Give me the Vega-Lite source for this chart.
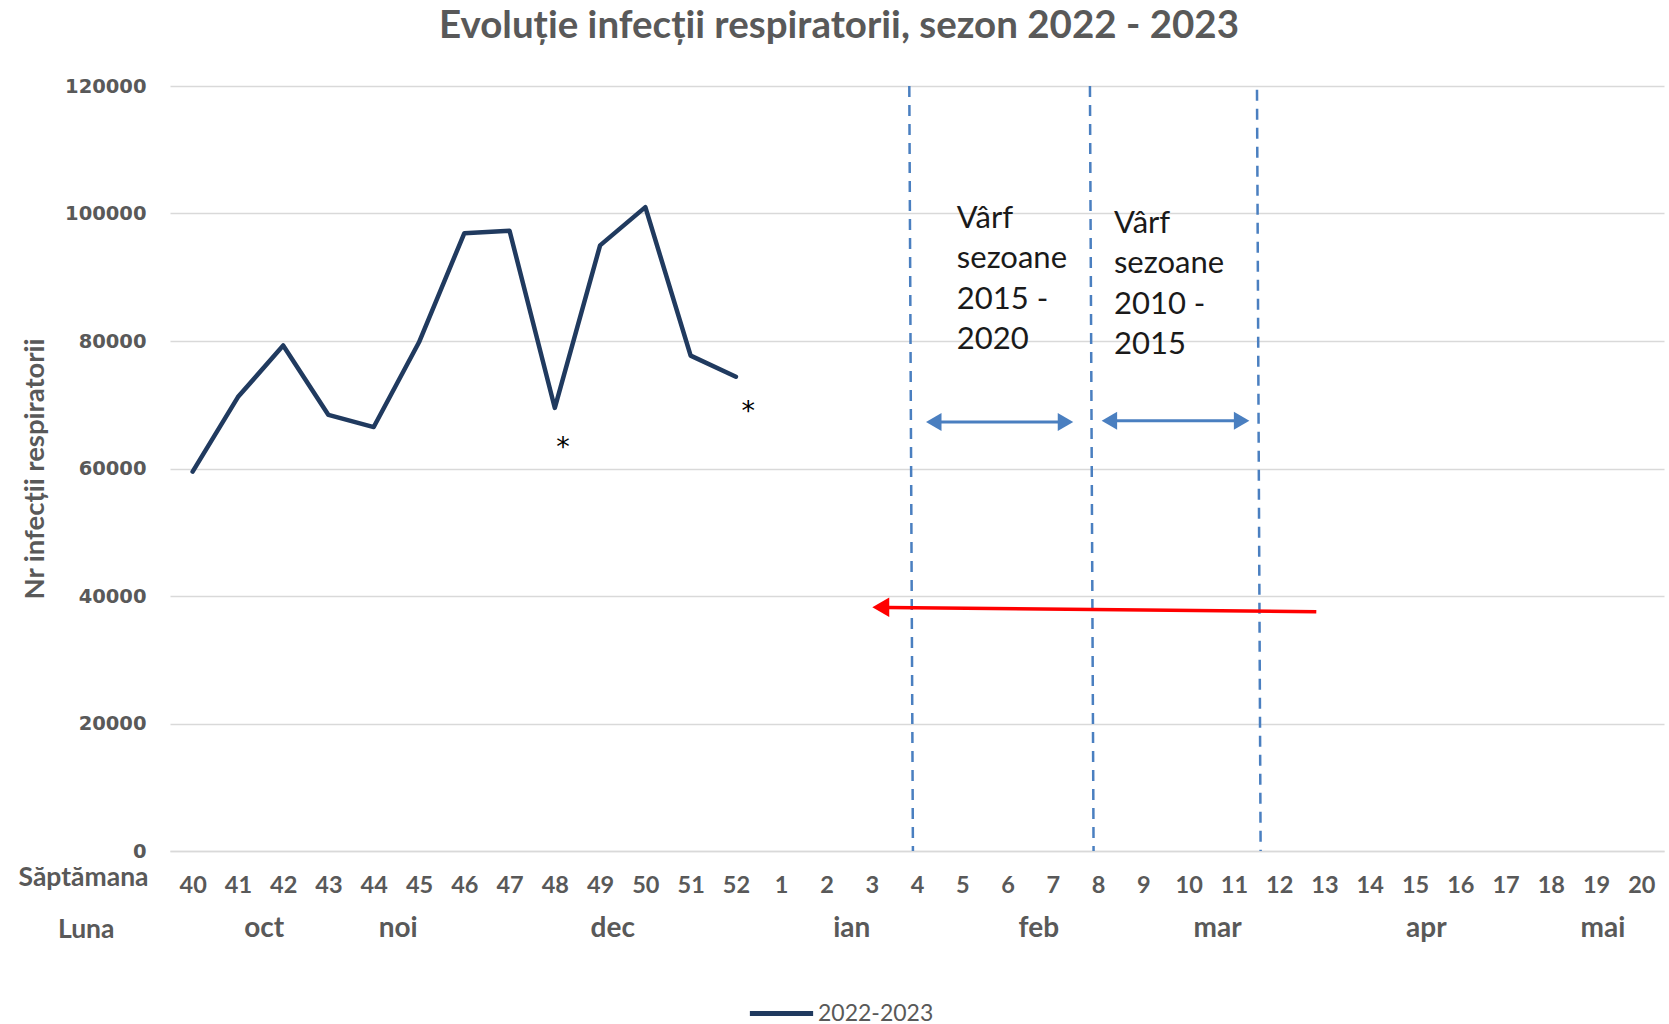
{
  "$schema": "https://vega.github.io/schema/vega-lite/v6.json",
  "width": 1494,
  "height": 765,
  "autosize": {"type": "none"},
  "padding": {"left": 170, "top": 86, "right": 5, "bottom": 173},
  "background": "white",
  "title": {
    "text": "Evoluție infecții respiratorii, sezon 2022 - 2023",
    "font": "Lato",
    "fontSize": 38.5,
    "fontWeight": "bold",
    "color": "#595959",
    "anchor": "middle",
    "baseline": "alphabetic",
    "offset": 0,
    "dx": -78
  },
  "config": {
    "view": {"stroke": null},
    "text": {"font": "Lato"}
  },
  "datasets": {
    "series": [
      {"week": "40", "v": 59500, "serie": "2022-2023"},
      {"week": "41", "v": 71200, "serie": "2022-2023"},
      {"week": "42", "v": 79300, "serie": "2022-2023"},
      {"week": "43", "v": 68400, "serie": "2022-2023"},
      {"week": "44", "v": 66500, "serie": "2022-2023"},
      {"week": "45", "v": 79800, "serie": "2022-2023"},
      {"week": "46", "v": 96900, "serie": "2022-2023"},
      {"week": "47", "v": 97300, "serie": "2022-2023"},
      {"week": "48", "v": 69500, "serie": "2022-2023"},
      {"week": "49", "v": 95000, "serie": "2022-2023"},
      {"week": "50", "v": 101000, "serie": "2022-2023"},
      {"week": "51", "v": 77700, "serie": "2022-2023"},
      {"week": "52", "v": 74400, "serie": "2022-2023"}
    ],
    "vlines": [
      {"x": 15.83, "x2": 15.91, "v": 120000, "v2": 0},
      {"x": 19.82, "x2": 19.90, "v": 120000, "v2": 0},
      {"x": 23.51, "x2": 23.59, "v": 119400, "v2": 0}
    ],
    "shafts": [
      {"x": 16.3, "x2": 19.35, "v": 67300},
      {"x": 20.2, "x2": 23.25, "v": 67500}
    ],
    "heads": [
      {"x": 16.37, "v": 67300, "dir": "left"},
      {"x": 19.28, "v": 67300, "dir": "right"},
      {"x": 20.25, "v": 67500, "dir": "left"},
      {"x": 23.17, "v": 67500, "dir": "right"}
    ],
    "red": [
      {"x": 15.35, "x2": 24.82, "v": 38200, "v2": 37540}
    ],
    "redhead": [
      {"x": 15.2, "v": 38230, "dir": "left"}
    ],
    "notes": [
      {"x": 16.88, "v": 97800, "text": ["Vârf", "sezoane", "2015 -", "2020"]},
      {"x": 20.35, "v": 97000, "text": ["Vârf", "sezoane", "2010 -", "2015"]}
    ],
    "stars": [
      {"x": 8.18, "v": 61950, "text": "*"},
      {"x": 12.27, "v": 67550, "text": "*"}
    ],
    "months": [
      {"x": 1.58, "v": -12235, "text": "oct"},
      {"x": 4.54, "v": -12235, "text": "noi"},
      {"x": 9.28, "v": -12235, "text": "dec"},
      {"x": 14.56, "v": -12235, "text": "ian"},
      {"x": 18.69, "v": -12235, "text": "feb"},
      {"x": 22.64, "v": -12235, "text": "mar"},
      {"x": 27.25, "v": -12235, "text": "apr"},
      {"x": 31.15, "v": -12235, "text": "mai"}
    ],
    "rowlabels": [
      {"x": -2.41, "v": -4250, "text": "Săptămana"},
      {"x": -2.35, "v": -12390, "text": "Luna"}
    ]
  },
  "encoding": {
    "y": {
      "field": "v",
      "type": "quantitative",
      "scale": {"domain": [0, 120000], "nice": false, "zero": true},
      "axis": {
        "title": "Nr infecții respiratorii",
        "titleFont": "Lato",
        "titleFontSize": 27.5,
        "titleFontWeight": "bold",
        "titleColor": "#595959",
        "titlePadding": 15,
        "values": [0, 20000, 40000, 60000, 80000, 100000, 120000],
        "format": "d",
        "labelFont": "DejaVu Sans",
        "labelFontWeight": "bold",
        "labelFontSize": 19.5,
        "labelColor": "#595959",
        "labelPadding": 24,
        "ticks": false,
        "domain": false,
        "grid": true,
        "gridColor": "#d9d9d9",
        "gridWidth": 1.3
      }
    }
  },
  "layer": [
    {
      "data": {"name": "series"},
      "mark": {"type": "line", "strokeWidth": 4.5, "strokeJoin": "round", "strokeCap": "round"},
      "encoding": {
        "x": {
          "field": "week",
          "type": "ordinal",
          "sort": null,
          "scale": {
            "type": "point",
            "padding": 0.5,
            "domain": ["40","41","42","43","44","45","46","47","48","49","50","51","52","1","2","3","4","5","6","7","8","9","10","11","12","13","14","15","16","17","18","19","20"]
          },
          "axis": {
            "title": null,
            "labelAngle": 0,
            "labelFont": "Lato",
            "labelFontWeight": "bold",
            "labelFontSize": 23.5,
            "labelColor": "#595959",
            "labelPadding": 22,
            "ticks": false,
            "domain": true,
            "domainColor": "#d9d9d9",
            "domainWidth": 1.3
          }
        },
        "color": {
          "field": "serie",
          "type": "nominal",
          "scale": {"range": ["#203a5f"]},
          "legend": {
            "orient": "none",
            "legendX": 577,
            "legendY": 893,
            "title": null,
            "padding": 0,
            "symbolType": "stroke",
            "symbolSize": 4000,
            "symbolStrokeWidth": 5,
            "labelFont": "Lato",
            "labelFontSize": 23,
            "labelColor": "#595959",
            "labelOffset": 2
          }
        }
      }
    },
    {
      "data": {"name": "vlines"},
      "mark": {"type": "rule", "color": "#4a7fc0", "strokeWidth": 2.5, "strokeDash": [11, 8]},
      "encoding": {
        "x": {"field": "x", "type": "quantitative", "scale": {"domain": [-0.5, 32.5], "nice": false, "zero": false}, "axis": null},
        "x2": {"field": "x2"},
        "y2": {"field": "v2"}
      }
    },
    {
      "data": {"name": "shafts"},
      "mark": {"type": "rule", "color": "#4a7fc0", "strokeWidth": 3},
      "encoding": {
        "x": {"field": "x", "type": "quantitative", "scale": {"domain": [-0.5, 32.5], "nice": false, "zero": false}, "axis": null},
        "x2": {"field": "x2"}
      }
    },
    {
      "data": {"name": "heads"},
      "mark": {"type": "point", "filled": true, "color": "#4a7fc0", "opacity": 1, "size": 320},
      "encoding": {
        "x": {"field": "x", "type": "quantitative", "scale": {"domain": [-0.5, 32.5], "nice": false, "zero": false}, "axis": null},
        "shape": {"field": "dir", "type": "nominal", "scale": {"domain": ["left", "right"], "range": ["triangle-left", "triangle-right"]}, "legend": null}
      }
    },
    {
      "data": {"name": "red"},
      "mark": {"type": "rule", "color": "#ff0000", "strokeWidth": 3.5},
      "encoding": {
        "x": {"field": "x", "type": "quantitative", "scale": {"domain": [-0.5, 32.5], "nice": false, "zero": false}, "axis": null},
        "x2": {"field": "x2"},
        "y2": {"field": "v2"}
      }
    },
    {
      "data": {"name": "redhead"},
      "mark": {"type": "point", "filled": true, "color": "#ff0000", "opacity": 1, "size": 380, "shape": "triangle-left"},
      "encoding": {
        "x": {"field": "x", "type": "quantitative", "scale": {"domain": [-0.5, 32.5], "nice": false, "zero": false}, "axis": null}
      }
    },
    {
      "data": {"name": "notes"},
      "mark": {"type": "text", "align": "left", "baseline": "alphabetic", "fontSize": 31, "lineHeight": 40.5, "color": "#1a1a1a"},
      "encoding": {
        "x": {"field": "x", "type": "quantitative", "scale": {"domain": [-0.5, 32.5], "nice": false, "zero": false}, "axis": null},
        "text": {"field": "text"}
      }
    },
    {
      "data": {"name": "stars"},
      "mark": {"type": "text", "align": "center", "baseline": "alphabetic", "font": "DejaVu Sans", "fontSize": 27, "color": "#000000"},
      "encoding": {
        "x": {"field": "x", "type": "quantitative", "scale": {"domain": [-0.5, 32.5], "nice": false, "zero": false}, "axis": null},
        "text": {"field": "text"}
      }
    },
    {
      "data": {"name": "months"},
      "mark": {"type": "text", "align": "center", "baseline": "middle", "fontSize": 28, "fontWeight": "bold", "color": "#595959"},
      "encoding": {
        "x": {"field": "x", "type": "quantitative", "scale": {"domain": [-0.5, 32.5], "nice": false, "zero": false}, "axis": null},
        "text": {"field": "text"}
      }
    },
    {
      "data": {"name": "rowlabels"},
      "mark": {"type": "text", "align": "center", "baseline": "middle", "fontSize": 26.5, "fontWeight": "bold", "color": "#595959"},
      "encoding": {
        "x": {"field": "x", "type": "quantitative", "scale": {"domain": [-0.5, 32.5], "nice": false, "zero": false}, "axis": null},
        "text": {"field": "text"}
      }
    }
  ],
  "resolve": {"scale": {"x": "independent"}}
}
